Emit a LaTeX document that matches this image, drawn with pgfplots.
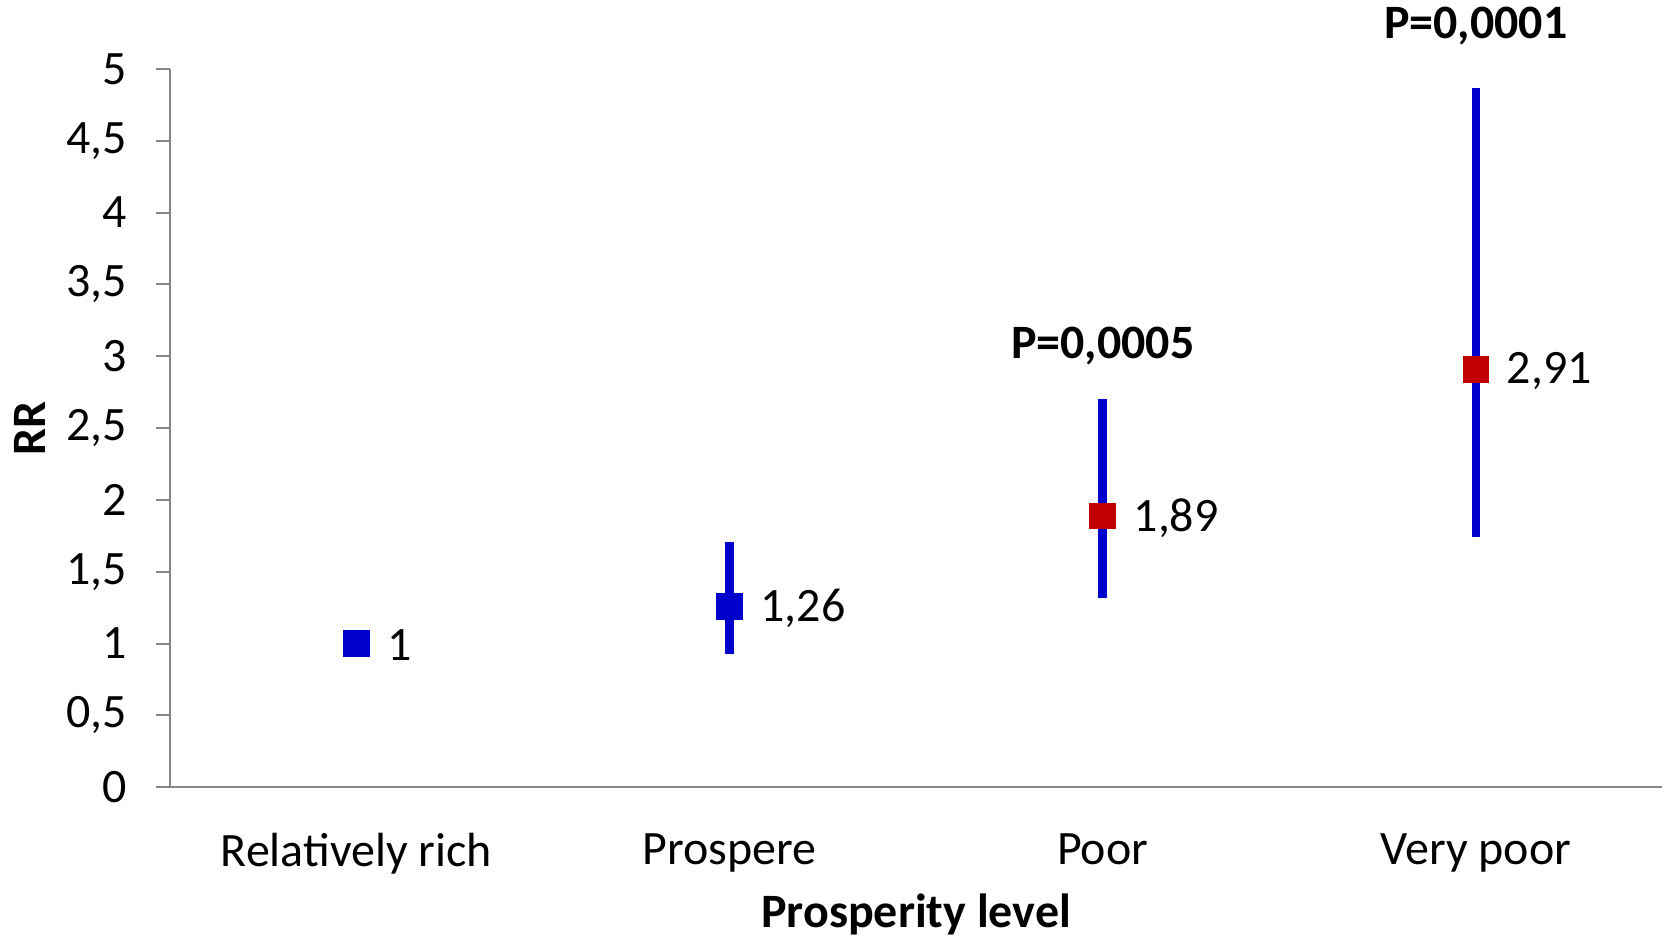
\documentclass[border=0pt]{standalone}
\usepackage{fontspec}
\setmainfont{Carlito}
\usepackage{pgfplots}
\pgfplotsset{compat=1.18}
\usepackage{pgfplotstable}
\usetikzlibrary{calc}
\definecolor{cblue}{RGB}{0,0,204}
\definecolor{cred}{RGB}{192,0,0}
\definecolor{axgray}{RGB}{134,134,134}

\pgfplotstableread{
x y ep em lab
0.5 1 0 0 1
1.5 1.26 0.45 0.33 1,26
}\bluedata
\pgfplotstableread{
x y ep em lab
2.5 1.89 0.81 0.57 1,89
3.5 2.91 1.96 1.17 2,91
}\reddata

\begin{document}
\begin{tikzpicture}
\begin{axis}[
  name=ax,
  at={(0,0)}, anchor=south west,
  width=747pt, height=359.5pt, scale only axis,
  xmin=0, xmax=4, ymin=0, ymax=5,
  clip=false,
  axis lines=left,
  axis line style={-, draw=axgray, line width=1pt},
  tick style={draw=axgray, line width=1pt},
  tick align=outside,
  major tick length=7pt,
  ytick={0,0.5,...,5},
  yticklabel style={/pgf/number format/use comma, /pgf/number format/assume math mode=true, font=\fontsize{24}{28}\selectfont, xshift=-11pt},
  xtick={0.5,1.5,2.5,3.5},
  xticklabels={Relatively rich, Prospere, Poor, Very poor},
  x tick label style={font=\fontsize{24}{28}\selectfont, yshift=-12.5pt},
  major x tick style={draw=none},
  extra x ticks={0,1,2,3,4},
  extra x tick labels={},
  extra x tick style={major tick length=7pt, tick style={draw=axgray, line width=1pt}},
  xlabel={Prosperity level},
  ylabel={RR},
  every axis x label/.style={at={(axis description cs:0.5,0)}, anchor=center, yshift=-63.5pt, font=\bfseries\fontsize{24}{28}\selectfont},
  every axis y label/.style={at={(axis description cs:0,0.5)}, anchor=center, rotate=90, yshift=70pt, font=\bfseries\fontsize{24}{28}\selectfont},
  nodes near coords,
  point meta=explicit symbolic,
  nodes near coords style={anchor=west, xshift=12pt, yshift=-1pt, font=\fontsize{24}{28}\selectfont, text=black},
]
\addplot[only marks, mark=square*, mark size=6.4pt, color=cblue, mark options={fill=cblue, draw=cblue},
  error bars/.cd, y dir=both, y explicit, error mark=none,
  error bar style={line width=4.2pt, color=cblue}]
  table[x=x, y=y, y error plus=ep, y error minus=em, meta=lab] {\bluedata};
\addplot[only marks, mark=square*, mark size=6.4pt, color=cred, mark options={fill=cred, draw=cred},
  error bars/.cd, y dir=both, y explicit, error mark=none,
  error bar style={line width=4.2pt, color=cblue}]
  table[x=x, y=y, y error plus=ep, y error minus=em, meta=lab] {\reddata};
\node[font=\bfseries\fontsize{24}{28}\selectfont] at (axis cs:2.5,3.07) {P=0,0005};
\node[font=\bfseries\fontsize{24}{28}\selectfont] at (axis cs:3.5,5.3) {P=0,0001};
\end{axis}
\path[use as bounding box] ($(ax.south west)+(-85pt,-76pt)$) rectangle ($(ax.north east)+(2.5pt,34.5pt)$);
\end{tikzpicture}
\end{document}
